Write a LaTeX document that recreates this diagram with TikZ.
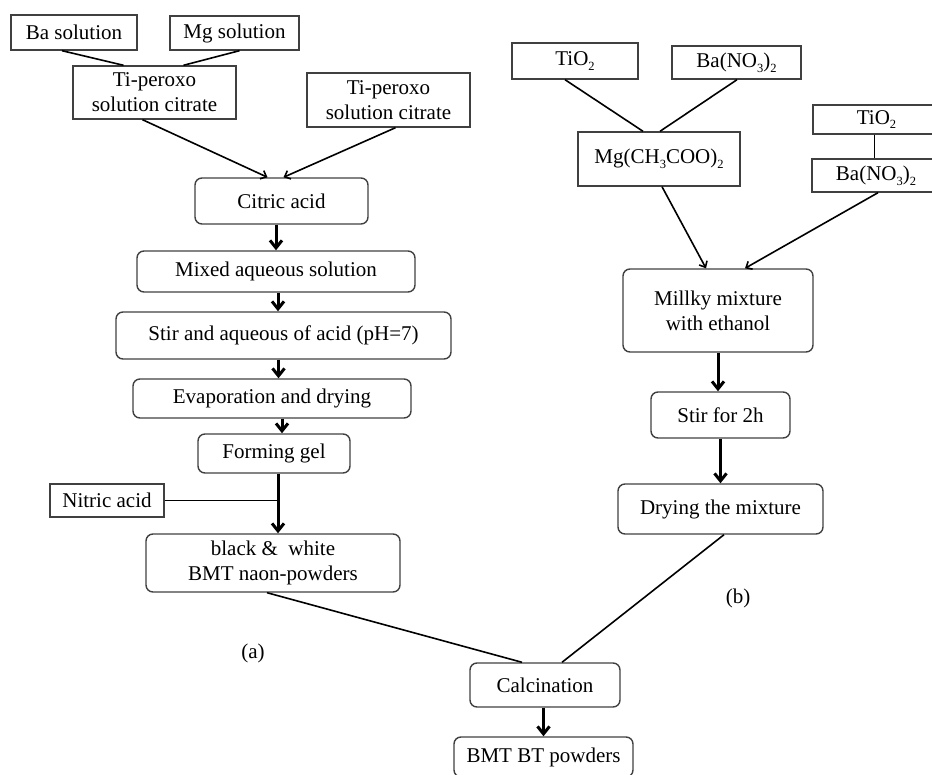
\documentclass[tikz,border=0pt]{standalone}
\usepackage{fontspec}
\setmainfont{Liberation Serif}
\usetikzlibrary{arrows.meta,calc}
\newcommand{\lsub}[1]{\raisebox{-0.5ex}{\fontsize{12.5}{12.5}\selectfont #1}}
\begin{document}
\begin{tikzpicture}[x=1pt,y=-1pt,
  box/.style={draw=black!75, line width=1.4pt, inner sep=0pt, align=center,
    font=\fontsize{21}{25}\selectfont},
  rbox/.style={box, rounded corners=7pt},
  thinarrow/.style={line width=1.6pt, -{Straight Barb[length=5pt,width=9pt]}},
  plainline/.style={line width=1.6pt},
  thickarrow/.style={line width=3pt, -{Straight Barb[length=7.5pt,width=12pt]}},
  lbl/.style={font=\fontsize{21}{25}\selectfont, inner sep=0pt}]
\useasboundingbox (0,0) rectangle (932,775);
\clip (0,0) rectangle (932,775);
% ---- (a) branch
\node[box, minimum width=126pt, minimum height=35pt] (ba) at (74,32.5) {Ba solution};
\node[box, minimum width=129pt, minimum height=34pt] (mg) at (234.5,33) {Mg solution};
\node[box, minimum width=163pt, minimum height=53pt] (tp1) at (154.5,92.5) {Ti-peroxo\\solution citrate};
\node[box, minimum width=163pt, minimum height=54pt] (tp2) at (388.5,100) {Ti-peroxo\\solution citrate};
\node[rbox, minimum width=173pt, minimum height=46pt] (cit) at (281.5,201) {Citric acid};
\node[rbox, minimum width=278pt, minimum height=41pt] (mix) at (276,271.5) {Mixed aqueous solution};
\node[rbox, minimum width=335pt, minimum height=47pt] (stir) at (283.5,335.5) {Stir and aqueous of acid (pH=7)};
\node[rbox, minimum width=278pt, minimum height=39pt] (evap) at (272,398.5) {Evaporation and drying};
\node[rbox, minimum width=152pt, minimum height=39pt] (gel) at (274,453.5) {Forming gel};
\node[box, minimum width=114pt, minimum height=33pt] (nit) at (107,500.5) {Nitric acid};
\node[rbox, minimum width=254pt, minimum height=58pt] (bw) at (273,563) {black \&~ white\\BMT naon-powders};
% ---- (b) branch
\node[box, minimum width=126pt, minimum height=36pt] (tio2a) at (575,61) {TiO\lsub{2}};
\node[box, minimum width=129pt, minimum height=33pt] (ba2a) at (736.5,62.5) {Ba(NO\lsub{3})\lsub{2}};
\node[box, minimum width=162pt, minimum height=54pt] (mgac) at (659,159) {Mg(CH\lsub{3}COO)\lsub{2}};
\node[box, minimum width=127pt, minimum height=29pt] (tio2b) at (876.5,119.5) {TiO\lsub{2}};
\node[box, minimum width=128pt, minimum height=33pt] (ba2b) at (876,175.5) {Ba(NO\lsub{3})\lsub{2}};
\node[rbox, minimum width=190pt, minimum height=83pt] (mil) at (718,310.5) {Millky mixture\\with ethanol};
\node[rbox, minimum width=139pt, minimum height=46pt] (st2) at (720.5,415) {Stir for 2h};
\node[rbox, minimum width=205pt, minimum height=50pt] (dry) at (720.5,509) {Drying the mixture};
% ---- common
\node[rbox, minimum width=150pt, minimum height=44pt] (calc) at (545,685) {Calcination};
\node[rbox, minimum width=179pt, minimum height=40pt] (bmt) at (543.5,757) {BMT BT powders};
\node[lbl] (la) at (253,653) {(a)};
\node[lbl] (lb) at (738,598) {(b)};
% ---- connectors (a)
\draw[plainline] ([xshift=-12pt]ba.south) -- ([xshift=-31pt]tp1.north);
\draw[plainline] ([xshift=5pt]mg.south) -- ([xshift=29pt]tp1.north);
\draw[thinarrow] ([xshift=-12pt]tp1.south) -- ([xshift=-14pt]cit.north);
\draw[thinarrow] ([xshift=7pt]tp2.south) -- ([xshift=2pt]cit.north);
\draw[thickarrow] (cit.south -| mix.north) -- (mix.north);
\draw[thickarrow] ([xshift=2pt]mix.south) -- ([xshift=2pt]mix.south |- stir.north);
\draw[thickarrow] ([xshift=-5pt]stir.south) -- ([xshift=-5pt]stir.south |- evap.north);
\draw[thickarrow] ([xshift=8pt]gel.north |- evap.south) -- ([xshift=8pt]gel.north);
\draw[thickarrow] ([xshift=4pt]gel.south) -- ([xshift=4pt]gel.south |- bw.north);
\draw[plainline] (nit.east) -- ([xshift=4pt]gel.south |- nit.east);
% ---- connectors (b)
\draw[plainline] ([xshift=-10pt]tio2a.south) -- ([xshift=-16pt]mgac.north);
\draw[plainline] ([xshift=0.5pt]ba2a.south) -- ([xshift=1pt]mgac.north);
\draw[plainline] ([xshift=-2pt]tio2b.south) -- ([xshift=-2pt]tio2b.south |- ba2b.north);
\draw[thinarrow] ([xshift=3pt]mgac.south) -- ([xshift=-12pt]mil.north);
\draw[thinarrow] ([xshift=2pt]ba2b.south) -- ([xshift=27pt]mil.north);
\draw[thickarrow] (mil.south) -- (mil.south |- st2.north);
\draw[thickarrow] (st2.south) -- (st2.south |- dry.north);
% ---- merge
\draw[plainline] ([xshift=-6pt]bw.south) -- ([xshift=-23pt]calc.north);
\draw[plainline] ([xshift=3.5pt]dry.south) -- ([xshift=17pt]calc.north);
\draw[thickarrow] (bmt.north |- calc.south) -- (bmt.north);
\end{tikzpicture}
\end{document}
